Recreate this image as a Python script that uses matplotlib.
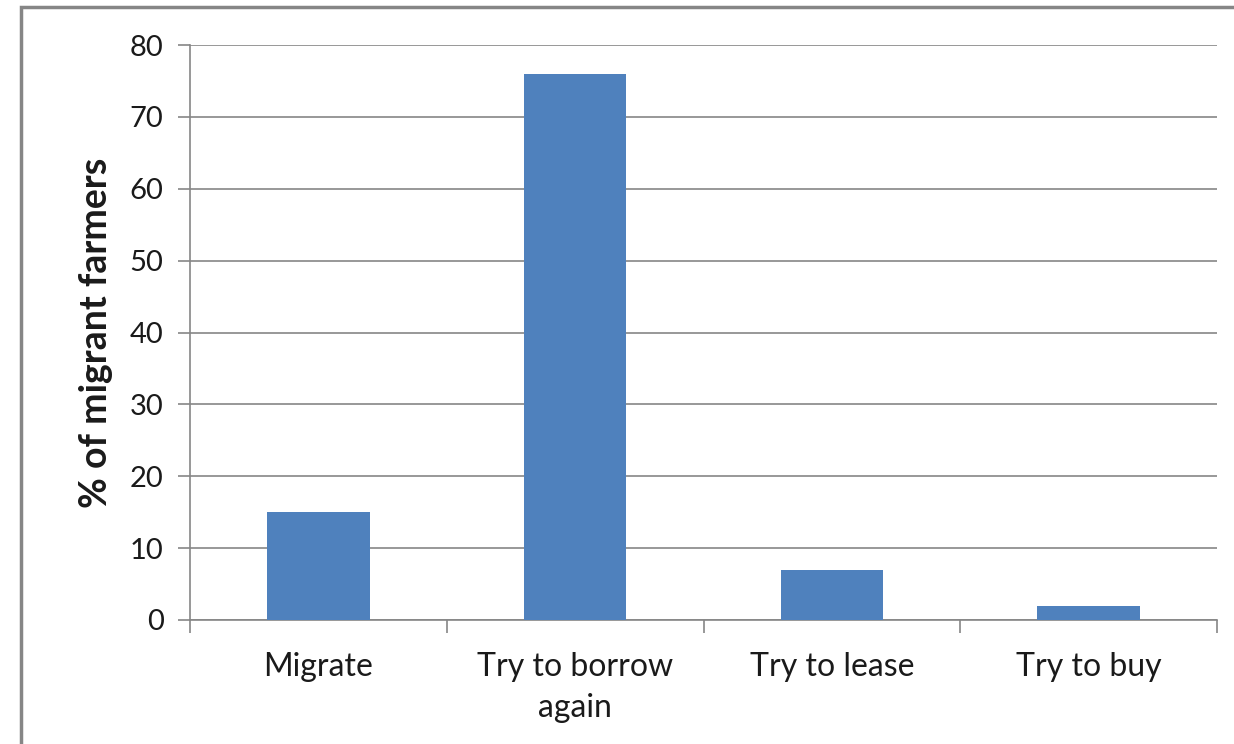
import numpy as np
import matplotlib.pyplot as plt
from matplotlib.patches import Rectangle

categories = ['Migrate', 'Try to borrow\nagain', 'Try to lease', 'Try to buy']
values = [15, 76, 7, 2]
y_ticks = [0, 10, 20, 30, 40, 50, 60, 70, 80]

plt.rcParams['font.family'] = ['Lato', 'DejaVu Sans']

fig = plt.figure(figsize=(12.34, 7.44), dpi=100)
ax = fig.add_axes([190/1234, 1 - 620/744, (1217 - 190)/1234, (620 - 45)/744])

# outer chart frame
fig.patches.append(Rectangle((21/1234, -0.05), 1.1, 1 - 7/744 + 0.05,
                             transform=fig.transFigure, fill=False,
                             edgecolor='#868686', linewidth=2.5, zorder=0))

x = np.arange(len(categories))
ax.bar(x, values, width=0.4, color='#4F81BD', zorder=3)

ax.set_xlim(-0.5, len(categories) - 0.5)
ax.set_ylim(0, 80)
ax.set_yticks(y_ticks)
ax.tick_params(axis='y', labelsize=21, length=9, width=1.2, color='#868686',
               pad=10, labelcolor='#1a1a1a')
ax.grid(axis='y', color='#868686', linewidth=1.2, zorder=0)

# category boundaries carry the tick marks, centres carry the labels
ax.set_xticks(np.arange(len(categories) + 1) - 0.5)
ax.set_xticklabels([])
ax.tick_params(axis='x', which='major', length=9, width=1.2, color='#868686',
               direction='out')
ax.set_xticks(x, minor=True)
ax.set_xticklabels(categories, minor=True, fontsize=23, color='#1a1a1a',
                   linespacing=1.45)
ax.tick_params(axis='x', which='minor', length=0, pad=23)

for s in ['top', 'right']:
    ax.spines[s].set_visible(False)
for s in ['left', 'bottom']:
    ax.spines[s].set_color('#868686')
    ax.spines[s].set_linewidth(1.2)

ax.set_ylabel('% of migrant farmers', fontsize=27, fontweight='bold',
              labelpad=12, color='#1a1a1a')

fig.savefig('out.png', dpi=100)
